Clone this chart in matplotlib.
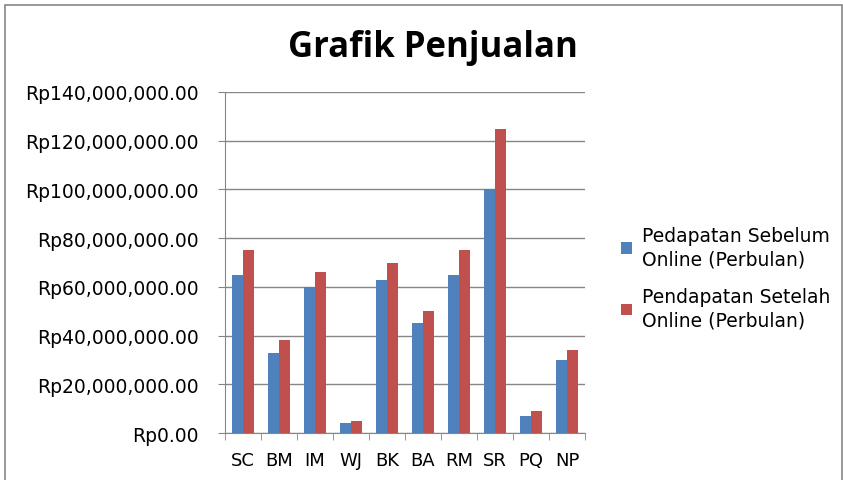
import numpy as np
import matplotlib.pyplot as plt
from matplotlib.patches import Rectangle
from matplotlib.ticker import FuncFormatter

# data
categories = ["SC", "BM", "IM", "WJ", "BK", "BA", "RM", "SR", "PQ", "NP"]
sebelum = [65e6, 33e6, 60e6, 4e6, 63e6, 45e6, 65e6, 100e6, 7e6, 30e6]
setelah = [75e6, 38e6, 66e6, 5e6, 70e6, 50e6, 75e6, 125e6, 9e6, 34e6]
series_labels = ["Pedapatan Sebelum\nOnline (Perbulan)", "Pendapatan Setelah\nOnline (Perbulan)"]

plt.rcParams["font.family"] = ["DejaVu Sans"]

fig = plt.figure(figsize=(8.43, 4.81), dpi=100)
ax = fig.add_axes([225 / 843, 1 - 434 / 481, 360 / 843, 341 / 481])

x = np.arange(len(categories))
w = 0.31
ax.bar(x - w / 2, sebelum, w, color="#4F81BD", label=series_labels[0], zorder=3)
ax.bar(x + w / 2, setelah, w, color="#C0504D", label=series_labels[1], zorder=3)

ax.set_xlim(-0.5, len(categories) - 0.5)
ax.set_ylim(0, 140e6)
ax.set_yticks(np.arange(0, 140e6 + 1, 20e6))
ax.yaxis.set_major_formatter(FuncFormatter(lambda v, p: f"Rp{v:,.2f}"))
ax.set_xticks(x)
ax.set_xticklabels(categories)
ax.set_xticks(np.arange(-0.5, len(categories), 1), minor=True)
ax.tick_params(axis="x", which="major", length=0, labelsize=13, pad=13)
ax.tick_params(axis="x", which="minor", length=5, color="#868686", direction="out")
ax.tick_params(axis="y", length=5, color="#868686", labelsize=13.5, pad=14)

ax.grid(True, axis="y", color="#868686", linewidth=1, zorder=0)
for s in ["top", "right"]:
    ax.spines[s].set_visible(False)
ax.spines["left"].set_color("#868686")
ax.spines["bottom"].set_color("#868686")

fig.text(433 / 843, 1 - 48 / 481, "Grafik Penjualan", ha="center", va="center",
         fontsize=25, fontweight="bold", family=["Open Sans", "DejaVu Sans"])

leg = fig.legend(loc="center left", bbox_to_anchor=(604 / 843, 1 - 279 / 481),
                 frameon=False, fontsize=13.5, handlelength=0.6, handleheight=0.6,
                 handletextpad=0.5, labelspacing=1.0)
for t in leg.get_texts():
    t.set_linespacing(1.3)

fig.patches.append(Rectangle((5 / 843, -0.01), 837 / 843, 1 - 6 / 481 + 0.01,
                             transform=fig.transFigure, fill=False,
                             edgecolor="#868686", linewidth=1.2))

plt.savefig("out.png", dpi=100)
